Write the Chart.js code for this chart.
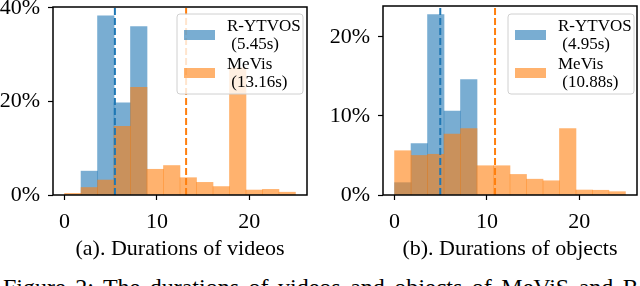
<!doctype html>
<html lang="en">
  <head>
    <meta charset="utf-8">
    <title>Durations of videos and objects</title>
    <script src="https://cdn.jsdelivr.net/npm/chart.js"></script>
    <style>
      body{
        margin: 0;
        background: #fff;
        width: 640px;
        height: 286px;
        overflow: hidden;
        position: relative;
        font-family: "Liberation Serif", serif;
      }
      .box{
        position: absolute;
        top: 0;
        width: 320px;
        height: 262px;
      }
      .caption{
        position: absolute;
        left: 3px;
        top: 275px;
        font-size: 24px;
        line-height: 24px;
        white-space: nowrap;
        word-spacing: 3.5px;
        color: #000;
      }
    </style>
  </head>
  <body>
    <div class="box" style="left:0px;"><canvas id="chart_videos"></canvas></div>
    <div class="box" style="left:320px;"><canvas id="chart_objects"></canvas></div>
    <div class="caption">Figure 2: The durations of videos and objects of MeViS and Ref-YouTube-VOS.</div>

    <script>
      // histogram bins (seconds), 14 bins over 0..25
      const binEdges = [0, 1.79, 3.57, 5.36, 7.14, 8.93, 10.71, 12.5, 14.29, 16.07, 17.86, 19.64, 21.43, 23.21, 25];
      const seriesNames = ['R-YTVOS', 'MeVis'];

      // (a) durations of videos, percent per bin
      const videoYtvos = [0, 5.1, 38.3, 19.7, 36.0, 0, 0, 0, 0, 0, 0, 0, 0, 0];
      const videoMevis = [0.35, 1.6, 3.2, 14.7, 23.0, 5.5, 6.3, 3.7, 2.7, 1.8, 27.2, 1.06, 1.2, 0.6];
      const videoMeans = [5.45, 13.16];

      // (b) durations of objects, percent per bin
      const objectYtvos = [1.56, 6.5, 22.8, 10.6, 14.6, 0, 0, 0, 0, 0, 0, 0, 0, 0];
      const objectMevis = [5.6, 5.0, 5.15, 7.7, 8.4, 3.7, 3.7, 2.6, 2.0, 1.8, 8.4, 0.63, 0.6, 0.42];
      const objectMeans = [4.95, 10.88];

      const xTicks = [0, 10, 20];
      const videoYTicks = [0, 20, 40];
      const objectYTicks = [0, 10, 20];

      const blueFill = 'rgba(31, 119, 180, 0.6)';
      const orangeFill = 'rgba(255, 127, 14, 0.6)';
      const blueLine = '#1f77b4';
      const orangeLine = '#ff7f0e';

      Chart.defaults.font.family = '"Liberation Serif", serif';
      Chart.defaults.color = '#000';

      const binCenters = binEdges.slice(0, -1).map(function(e, i){
        return (e + binEdges[i + 1]) / 2;
      });

      function toPoints(values){
        return values.map(function(v, i){ return {x: binCenters[i], y: v}; });
      }

      // legend box + four spines, drawn on top of the bars
      const boxLegend = {
        id: 'boxLegend',
        afterDraw(chart, args, opts){
          const ctx = chart.ctx;
          const a = chart.chartArea;
          const w = 126, h = 80;
          const x0 = a.right - opts.right - w;
          const y0 = a.top + opts.top;
          ctx.save();
          // legend frame
          const r = 3;
          ctx.beginPath();
          ctx.moveTo(x0 + r, y0);
          ctx.lineTo(x0 + w - r, y0);
          ctx.quadraticCurveTo(x0 + w, y0, x0 + w, y0 + r);
          ctx.lineTo(x0 + w, y0 + h - r);
          ctx.quadraticCurveTo(x0 + w, y0 + h, x0 + w - r, y0 + h);
          ctx.lineTo(x0 + r, y0 + h);
          ctx.quadraticCurveTo(x0, y0 + h, x0, y0 + h - r);
          ctx.lineTo(x0, y0 + r);
          ctx.quadraticCurveTo(x0, y0, x0 + r, y0);
          ctx.closePath();
          ctx.fillStyle = 'rgba(255, 255, 255, 0.8)';
          ctx.fill();
          ctx.strokeStyle = '#d0d0d0';
          ctx.lineWidth = 1;
          ctx.stroke();
          // entries
          ctx.font = '17px "Liberation Serif", serif';
          ctx.textBaseline = 'middle';
          ctx.textAlign = 'left';
          opts.items.forEach(function(item, i){
            const yy = y0 + 16 + i * 38;
            ctx.fillStyle = item.color;
            ctx.fillRect(x0 + 7, yy, 31, 10);
            ctx.fillStyle = '#000';
            ctx.fillText(item.text[0], x0 + 50, yy - 3);
            ctx.fillText(item.text[1], x0 + 50, yy + 15);
          });
          // spines
          ctx.strokeStyle = '#000';
          ctx.lineWidth = 1.5;
          ctx.strokeRect(a.left, a.top, a.right - a.left, a.bottom - a.top);
          ctx.restore();
        }
      };

      function fixedTicks(values){
        return function(scale){
          scale.ticks = values.map(function(v){ return {value: v}; });
        };
      }

      function drawHist(canvasId, ytvos, mevis, means, yTicks, yMax, title, pad, yWidth, legendPos){
        const data = {
          datasets: [
            {
              type: 'bar',
              label: seriesNames[0],
              data: toPoints(ytvos),
              backgroundColor: blueFill,
              borderWidth: 0,
              grouped: false,
              barPercentage: 1,
              categoryPercentage: 1,
              order: 3
            },
            {
              type: 'bar',
              label: seriesNames[1],
              data: toPoints(mevis),
              backgroundColor: orangeFill,
              borderWidth: 0,
              grouped: false,
              barPercentage: 1,
              categoryPercentage: 1,
              order: 2
            },
            {
              type: 'line',
              label: seriesNames[0] + ' mean',
              data: [{x: means[0], y: 0}, {x: means[0], y: yMax}],
              borderColor: blueLine,
              borderWidth: 2,
              borderDash: [7, 3],
              pointRadius: 0,
              order: 1
            },
            {
              type: 'line',
              label: seriesNames[1] + ' mean',
              data: [{x: means[1], y: 0}, {x: means[1], y: yMax}],
              borderColor: orangeLine,
              borderWidth: 2,
              borderDash: [7, 3],
              pointRadius: 0,
              order: 0
            }
          ]
        };

        const config = {
          type: 'bar',
          data: data,
          plugins: [boxLegend],
          options: {
            responsive: true,
            maintainAspectRatio: false,
            animation: false,
            layout: {padding: pad},
            plugins: {
              legend: {display: false},
              tooltip: {enabled: false},
              boxLegend: {
                right: legendPos.right,
                top: legendPos.top,
                items: [
                  {color: blueFill, text: [seriesNames[0], ' (' + means[0].toFixed(2) + 's)']},
                  {color: orangeFill, text: [seriesNames[1], ' (' + means[1].toFixed(2) + 's)']}
                ]
              }
            },
            scales: {
              x: {
                type: 'linear',
                min: -1.25,
                max: 26.25,
                offset: false,
                border: {display: false},
                grid: {offset: false, drawOnChartArea: false, tickLength: 5, tickColor: '#000', tickWidth: 1.2},
                afterBuildTicks: fixedTicks(xTicks),
                ticks: {
                  padding: 9,
                  maxRotation: 0,
                  autoSkip: false,
                  font: {size: 22}
                },
                title: {
                  display: true,
                  text: title,
                  font: {size: 22},
                  padding: {top: 0, bottom: 0}
                },
                afterFit: function(scale){
                  scale.height = 67;
                  scale.paddingLeft = 0;
                  scale.paddingRight = 0;
                }
              },
              y: {
                min: 0,
                max: yMax,
                border: {display: false},
                grid: {drawOnChartArea: false, tickLength: 5, tickColor: '#000', tickWidth: 1.2},
                afterBuildTicks: fixedTicks(yTicks),
                ticks: {
                  padding: 8,
                  autoSkip: false,
                  font: {size: 22},
                  callback: function(v){ return v + '%'; }
                },
                afterFit: function(scale){
                  scale.width = yWidth;
                  scale.paddingTop = 0;
                  scale.paddingBottom = 0;
                }
              }
            }
          }
        };

        return new Chart(document.getElementById(canvasId), config);
      }

      drawHist('chart_videos', videoYtvos, videoMevis, videoMeans, videoYTicks, 40.2,
        '(a). Durations of videos', {left: 0, right: 13, top: 7, bottom: 0}, 53, {right: 4, top: 7});
      drawHist('chart_objects', objectYtvos, objectMevis, objectMeans, objectYTicks, 23.9,
        '(b). Durations of objects', {left: 0, right: 3, top: 6, bottom: 0}, 63, {right: 3, top: 8});
    </script>
  </body>
</html>
